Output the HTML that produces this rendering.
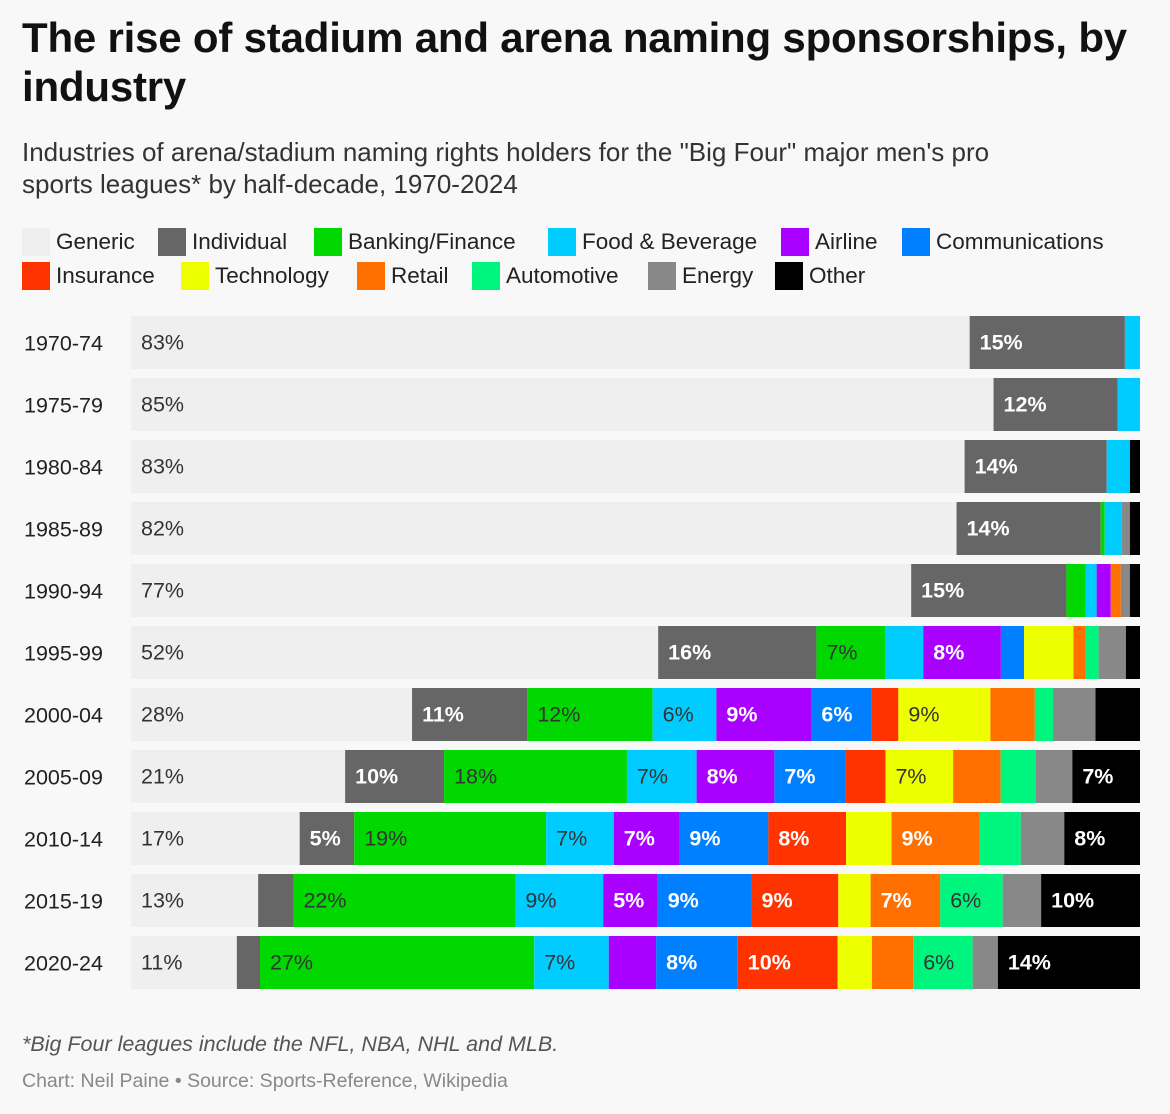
<!DOCTYPE html>
<html><head><meta charset="utf-8">
<style>
body{margin:0;background:#f8f8f8;font-family:"Liberation Sans",Arial,sans-serif;color:#222;}
#wrap{position:relative;width:1170px;height:1114px;overflow:hidden;}
h1{position:absolute;left:22px;top:13px;margin:0;font-size:42px;line-height:49px;font-weight:bold;color:#111;width:1140px;letter-spacing:-0.2px}
.sub{position:absolute;left:22px;top:136px;font-size:26px;line-height:32px;color:#333;width:1040px}
.leg{position:absolute;font-size:22.5px;color:#222;height:28px;line-height:28px;white-space:nowrap}
.leg i{display:inline-block;width:28px;height:28px;vertical-align:top;margin-right:6px}
.foot1{position:absolute;left:22px;top:1032px;font-size:21.5px;font-style:italic;color:#555}
.foot2{position:absolute;left:22px;top:1070px;font-size:19.5px;color:#888}
</style></head><body>
<div id="wrap">
<h1>The rise of stadium and arena naming sponsorships, by industry</h1>
<div class="sub">Industries of arena/stadium naming rights holders for the "Big Four" major men's pro sports leagues* by half-decade, 1970-2024</div>
<div id="legend"></div>
<svg id="chart" width="1170" height="1114" style="position:absolute;left:0;top:0"></svg>
<div class="foot1">*Big Four leagues include the NFL, NBA, NHL and MLB.</div>
<div class="foot2">Chart: Neil Paine • Source: Sports-Reference, Wikipedia</div>
</div>
<script>
const categories=["1970-74","1975-79","1980-84","1985-89","1990-94","1995-99","2000-04","2005-09","2010-14","2015-19","2020-24"];
const industries=["Generic","Individual","Banking/Finance","Food & Beverage","Airline","Communications","Insurance","Technology","Retail","Automotive","Energy","Other"];
const generic=[83.2,85.4,82.7,81.9,77.4,52.3,27.8,21.2,16.7,12.6,10.5];
const individual=[15.4,12.3,14.1,14.3,15.4,15.7,11.4,9.8,5.4,3.5,2.3];
const banking=[0,0,0,0.4,1.9,6.8,12.4,18.1,19.0,22.0,27.2];
const food=[1.5,2.2,2.3,1.7,1.1,3.8,6.3,6.9,6.7,8.7,7.4];
const airline=[0,0,0,0,1.4,7.7,9.4,7.7,6.5,5.4,4.7];
const comms=[0,0,0,0,0,2.3,5.9,7.0,8.8,9.3,8.1];
const insurance=[0,0,0,0,0,0,2.7,4.0,7.7,8.6,9.9];
const technology=[0,0,0,0,0,4.9,9.1,6.7,4.5,3.2,3.4];
const retail=[0,0,0,0,1.0,1.2,4.4,4.7,8.7,6.9,4.1];
const automotive=[0,0,0,0,0,1.3,1.8,3.5,4.1,6.2,5.9];
const energy=[0,0,0,0.8,0.9,2.7,4.2,3.6,4.3,3.8,2.5];
const other=[0,0,1.0,1.0,1.0,1.4,4.4,6.7,7.5,9.8,14.1];
const series=[generic,individual,banking,food,airline,comms,insurance,technology,retail,automotive,energy,other];
const colors=["#efefef","#666666","#00d800","#00ccff","#aa00ff","#0080ff","#ff3300","#eeff00","#ff7000","#00f57f","#888888","#000000"];
const textCol=["#333","#fff","#333","#333","#fff","#fff","#fff","#333","#fff","#333","#fff","#fff"];
const names=["generic","individual","banking","food","airline","communications","insurance","technology","retail","automotive","energy","other"];

const legPos=[[22,228],[158,228],[314,228],[548,228],[781,228],[902,228],[22,262],[181,262],[357,262],[472,262],[648,262],[775,262]];
const leg=document.getElementById('legend');
industries.forEach((n,i)=>{
  const d=document.createElement('div');d.className='leg';
  d.style.left=legPos[i][0]+'px';d.style.top=legPos[i][1]+'px';
  d.innerHTML='<i style="background:'+colors[i]+'"></i>'+n.replace('&','&amp;');
  
  
  leg.appendChild(d);
});

const svg=document.getElementById('chart');const NS="http://www.w3.org/2000/svg";
const x0=131,x1=1140,yTop=316,pitch=62,bh=53;
const xScale=(v,t)=>x0+(v/t)*(x1-x0);
const yScale=i=>yTop+i*pitch;
categories.forEach((c,r)=>{
  const y=yScale(r);
  const lab=document.createElementNS(NS,'text');
  lab.setAttribute('x',24);lab.setAttribute('y',y+bh/2+8);lab.setAttribute('font-size','21.5');lab.setAttribute('fill','#222');
  lab.textContent=c;
  
  
  svg.appendChild(lab);
  let total=0;series.forEach(s=>total+=s[r]);
  let cum=0;
  series.forEach((s,k)=>{
    const v=s[r];if(v<=0){return;}
    const xa=xScale(cum,total),xb=xScale(cum+v,total);cum+=v;
    const rect=document.createElementNS(NS,'rect');
    rect.setAttribute('x',xa);rect.setAttribute('y',y);rect.setAttribute('width',xb-xa);rect.setAttribute('height',bh);rect.setAttribute('fill',colors[k]);
    
    
    svg.appendChild(rect);
    if(v>=5){
      const t=document.createElementNS(NS,'text');
      t.setAttribute('x',xa+10);t.setAttribute('y',y+bh/2+7);t.setAttribute('font-size','21.5');t.setAttribute('fill',textCol[k]);
      if(textCol[k]==='#fff'){t.setAttribute('font-weight','bold');}
      t.textContent=Math.round(v)+'%';
      
      
      svg.appendChild(t);
    }
  });
});
</script>
</body></html>
